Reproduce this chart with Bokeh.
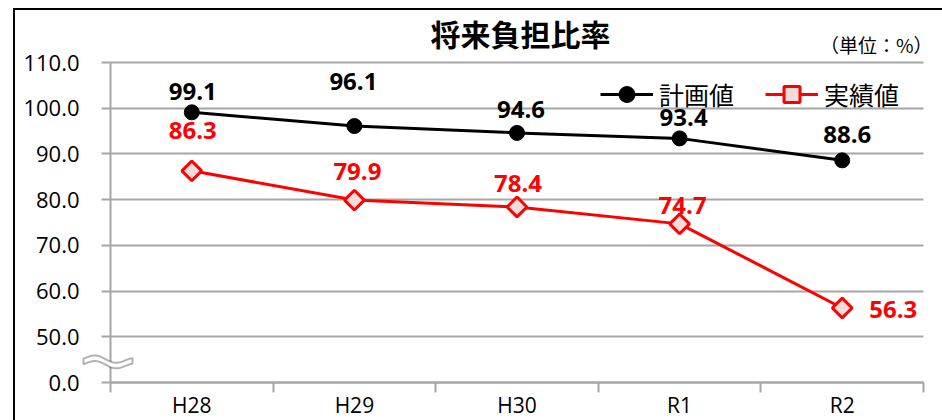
import math
import numpy as np
from bokeh.plotting import figure
from bokeh.models import (Range1d, FixedTicker, Legend, LegendItem, Label, LabelSet, Grid,
                          ColumnDataSource, PolyAnnotation)
from bokeh.core.properties import value
from bokeh.embed import file_html
from bokeh.resources import INLINE

# ---------------- data ----------------
categories = ["H28", "H29", "H30", "R1", "R2"]
plan = [99.1, 96.1, 94.6, 93.4, 88.6]
actual = [86.3, 79.9, 78.4, 74.7, 56.3]
y_ticks = [40, 50, 60, 70, 80, 90, 100, 110]
y_tick_labels = ["0.0", "50.0", "60.0", "70.0", "80.0", "90.0", "100.0", "110.0"]
title_text = "将来負担比率"
unit_text = "（単位：%）"
series_names = ["計画値", "実績値"]

# ---------------- label placement (screen px) ----------------
plan_dx = [1, -1, 4, 4, 5]
plan_dy = [21, 45, 23, 21, 26]
actual_dx = [1, 3, 1, 3, 51]
actual_dy = [40, 29, 23, 18, -2]

BLACK = "#000000"
RED = "#ff0000"
PINK = "#f2dcdb"
GRID = "#a6a6a6"
NUM_FONT = "Open Sans"
CJK_FONT = "Noto Sans CJK JP"

n = len(categories)
x_pos = [i + 0.5 for i in range(n)]          # category centres on a 0..n axis
x_bounds = list(range(n + 1))                # category boundaries (tick marks)

# pixel geometry
PX_X = 162.6                                 # px per category
PX_Y = 320 / (y_ticks[-1] - y_ticks[0])      # px per unit
LEFT_PAD = 95                                # px of frame left of the y axis (labels, break mark)
RIGHT_PAD = 19                               # px of frame right of the last category
TOP_PAD = 52                                 # px of frame above the top tick (title area)
BOTTOM_PAD = 38                              # px of frame below the bottom line (x labels)
x_min = -LEFT_PAD / PX_X
x_max = n + RIGHT_PAD / PX_X
y_min = y_ticks[0] - BOTTOM_PAD / PX_Y
y_max = y_ticks[-1] + TOP_PAD / PX_Y

p = figure(x_range=Range1d(x_min, x_max), y_range=Range1d(y_min, y_max),
           frame_width=LEFT_PAD + round(PX_X * n) + RIGHT_PAD,
           frame_height=320 + TOP_PAD + BOTTOM_PAD,
           min_border_left=0, min_border_right=0, min_border_top=0, min_border_bottom=0,
           output_backend="svg", toolbar_location=None, tools="")
p.styles = {"margin-left": "13px", "margin-top": "8px",
            "border-left": "2px solid #000000", "border-top": "2px solid #000000"}
p.outline_line_color = None
p.background_fill_color = "white"
p.border_fill_color = "white"

# y axis (drawn at x = 0 inside the frame)
yax = p.yaxis[0]
yax.fixed_location = 0
yax.bounds = (y_ticks[0], y_ticks[-1])
yax.ticker = FixedTicker(ticks=y_ticks)
yax.major_label_overrides = {t: s for t, s in zip(y_ticks, y_tick_labels)}
yax.axis_line_color = GRID
yax.axis_line_width = 2
yax.major_tick_line_color = GRID
yax.major_tick_line_width = 2
yax.major_tick_in = 0
yax.major_tick_out = 9
yax.minor_tick_line_color = None
yax.major_label_standoff = 22
yax.major_label_text_font = NUM_FONT
yax.major_label_text_font_size = "22px"
yax.major_label_text_color = BLACK

p.ygrid.ticker = FixedTicker(ticks=y_ticks)
p.ygrid.grid_line_color = GRID
p.ygrid.grid_line_width = 2
if "cross_bounds" in Grid.properties():
    p.ygrid.cross_bounds = (0, n)
p.xgrid.visible = False

# x axis (drawn at the bottom tick): labels at centres, tick marks at boundaries
xax = p.xaxis[0]
xax.fixed_location = y_ticks[0]
xax.bounds = (0, n)
xax.ticker = FixedTicker(ticks=x_pos, minor_ticks=x_bounds)
xax.major_label_overrides = {x: c for x, c in zip(x_pos, categories)}
xax.axis_line_color = GRID
xax.axis_line_width = 2
xax.major_tick_line_color = None
xax.major_tick_in = 0
xax.major_tick_out = 0
xax.minor_tick_line_color = GRID
xax.minor_tick_line_width = 2
xax.minor_tick_in = 0
xax.minor_tick_out = 10
xax.major_label_standoff = -2
xax.major_label_text_font = NUM_FONT
xax.major_label_text_font_size = "21px"
xax.major_label_text_color = BLACK

# series
src = ColumnDataSource(dict(
    x=x_pos, plan=plan, actual=actual,
    plan_txt=[f"{v:.1f}" for v in plan], actual_txt=[f"{v:.1f}" for v in actual],
    pdx=plan_dx, pdy=plan_dy, adx=actual_dx, ady=actual_dy))

l1 = p.line("x", "plan", source=src, line_color=BLACK, line_width=3)
s1 = p.scatter("x", "plan", source=src, marker="circle", size=15,
               fill_color=BLACK, line_color=BLACK)
l2 = p.line("x", "actual", source=src, line_color=RED, line_width=3)
s2 = p.scatter("x", "actual", source=src, marker="square", angle=math.pi / 4, size=14,
               fill_color=PINK, line_color=RED, line_width=3)

for col, txt, dx, dy, color in [("plan", "plan_txt", "pdx", "pdy", BLACK),
                                ("actual", "actual_txt", "adx", "ady", RED)]:
    p.add_layout(LabelSet(x="x", y=col, text=txt, source=src, x_offset=dx, y_offset=dy,
                          text_align="center", text_baseline="middle",
                          text_font=value(NUM_FONT), text_font_style="bold",
                          text_font_size="24px", text_color=color))

legend = Legend(items=[LegendItem(label=series_names[0], renderers=[l1, s1]),
                       LegendItem(label=series_names[1], renderers=[l2, s2])],
                orientation="horizontal", location=(585, 268.5 + BOTTOM_PAD),
                margin=0, padding=0, spacing=26, label_standoff=6,
                glyph_width=53, glyph_height=40, label_height=40, label_width=80,
                label_text_font=CJK_FONT, label_text_font_size="25px",
                label_text_color=BLACK,
                background_fill_alpha=0, border_line_color=None)
p.add_layout(legend)

# title and unit
p.add_layout(Label(x=n / 2, y=y_ticks[-1], x_offset=3.5, y_offset=29.5,
                   text=title_text, text_align="center", text_baseline="middle",
                   text_font=CJK_FONT, text_font_style="bold", text_font_size="30px",
                   text_color=BLACK))
p.add_layout(Label(x=n, y=y_ticks[-1], x_offset=9, y_offset=18,
                   text=unit_text, text_align="right", text_baseline="middle",
                   text_font=CJK_FONT, text_font_size="19px", text_color=BLACK))

# axis break mark (decoration), px relative to the y axis / bottom line
wx = np.linspace(-27, 22, 50)
wc = 20.5 + 3 * np.cos(2 * np.pi * (wx + 15) / 40) - 0.06 * (wx + 3)
xs = np.concatenate([wx, wx[::-1]]) / PX_X
ys = y_ticks[0] + np.concatenate([wc + 2.8, (wc - 2.8)[::-1]]) / PX_Y
p.add_layout(PolyAnnotation(xs=list(xs), ys=list(ys),
                            fill_color="white", fill_alpha=1,
                            line_color=BLACK, line_width=2))

open("out.html", "w").write(file_html(p, INLINE))
